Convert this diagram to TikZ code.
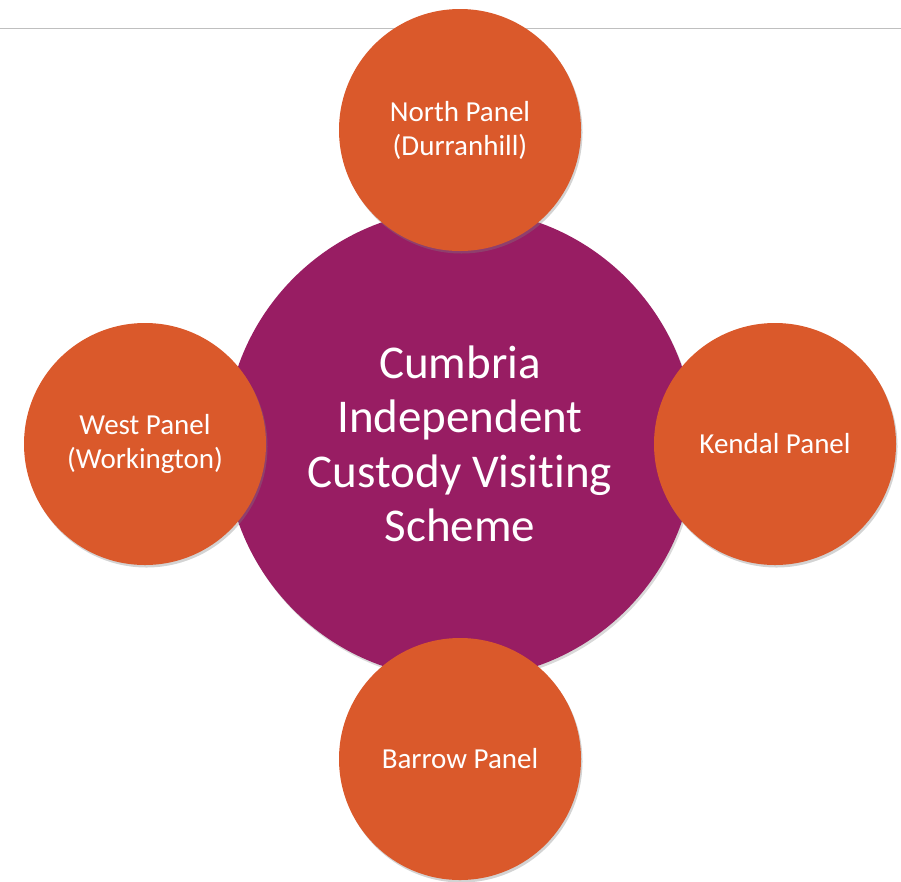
\documentclass[tikz,border=0pt]{standalone}
\usepackage{fontspec}
\setmainfont{Carlito}[Ligatures=NoCommon]
\usetikzlibrary{positioning,shadows}
\definecolor{panelorange}{HTML}{DA592B}
\definecolor{hubpurple}{HTML}{981D63}
\begin{document}
\begin{tikzpicture}
[x=1pt, y=-1pt,
hub/.style={shape=circle, fill=hubpurple, minimum size=470pt, inner sep=0pt,
    text=white, align=center, font=\fontsize{47}{54.5}\selectfont,
    drop shadow={opacity=0.3, shadow xshift=1.5pt, shadow yshift=-2.5pt}},
panel/.style={shape=circle, fill=panelorange, minimum size=242pt, inner sep=0pt,
    text=white, align=center, font=\fontsize{29}{34}\selectfont,
    drop shadow={opacity=0.35, shadow xshift=1.5pt, shadow yshift=-2.5pt}}
]
\useasboundingbox (0,0) rectangle (901,881);
%\fill[white] (0,0) rectangle (901,881);
\coordinate (ruleL) at (0,28);
\coordinate (ruleR) at (901,28);
\draw[black!25, line width=0.8pt] (ruleL) -- (ruleR);
\node[hub] (scheme) at (460,444) {Cumbria\\Independent\\Custody Visiting\\Scheme};
\begin{scope}[node distance=315pt, on grid]
\node[panel, above=of scheme, yshift=-1pt] (north) {North Panel\\(Durranhill)};
\node[panel, left=of scheme] (west) {West Panel\\(Workington)};
\node[panel, right=of scheme] (kendal) {Kendal Panel};
\node[panel, below=of scheme] (barrow) {Barrow Panel};
\end{scope}
\end{tikzpicture}
\end{document}
